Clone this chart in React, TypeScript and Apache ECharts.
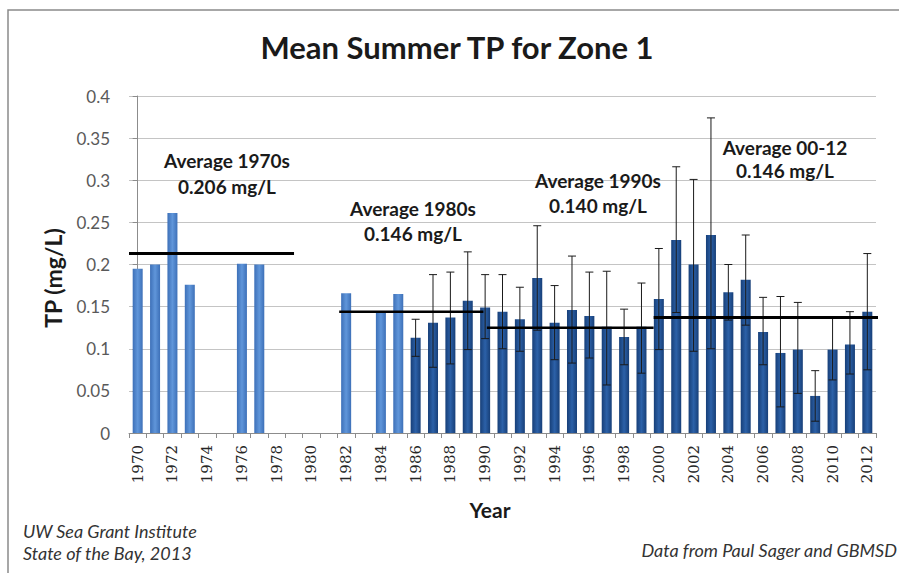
import React, { useEffect, useRef } from 'react';
import * as echarts from 'echarts';

// ---- Data ----
const years = [
  '1970', '1971', '1972', '1973', '1974', '1975', '1976', '1977', '1978', '1979',
  '1980', '1981', '1982', '1983', '1984', '1985', '1986', '1987', '1988', '1989',
  '1990', '1991', '1992', '1993', '1994', '1995', '1996', '1997', '1998', '1999',
  '2000', '2001', '2002', '2003', '2004', '2005', '2006', '2007', '2008', '2009',
  '2010', '2011', '2012',
];

const tpValues: (number | null)[] = [
  0.195, 0.2, 0.261, 0.176, null, null, 0.201, 0.2, null, null,
  null, null, 0.166, null, 0.144, 0.165, 0.113, 0.131, 0.137, 0.157,
  0.149, 0.144, 0.135, 0.184, 0.131, 0.146, 0.139, 0.126, 0.114, 0.126,
  0.159, 0.229, 0.2, 0.235, 0.167, 0.182, 0.12, 0.095, 0.099, 0.044,
  0.099, 0.105, 0.144,
];

const errLow: (number | null)[] = [
  null, null, null, null, null, null, null, null, null, null,
  null, null, null, null, null, null, 0.091, 0.078, 0.082, 0.099,
  0.112, 0.1, 0.097, 0.122, 0.087, 0.083, 0.089, 0.057, 0.081, 0.071,
  0.099, 0.143, 0.097, 0.1, 0.134, 0.128, 0.081, 0.031, 0.047, 0.014,
  0.063, 0.07, 0.075,
];

const errHigh: (number | null)[] = [
  null, null, null, null, null, null, null, null, null, null,
  null, null, null, null, null, null, 0.135, 0.188, 0.191, 0.215,
  0.188, 0.188, 0.173, 0.246, 0.175, 0.21, 0.191, 0.192, 0.147, 0.178,
  0.219, 0.316, 0.301, 0.374, 0.2, 0.235, 0.161, 0.162, 0.155, 0.074,
  0.136, 0.144, 0.213,
];

// first index drawn in the dark (monitored) colour
const darkFrom = 16;

// decade average lines (category-index positions)
const avgStart = [-0.5, 11.6, 20.1, 29.7];
const avgEnd = [9.0, 19.9, 29.7, 42.8];
const avgValues = [0.213, 0.144, 0.125, 0.137];
const avgTitles = ['Average 1970s', 'Average 1980s', 'Average 1990s', 'Average 00-12'];
const avgTexts = ['0.206 mg/L', '0.146 mg/L', '0.140 mg/L', '0.146 mg/L'];

const yTicks = [0, 0.05, 0.1, 0.15, 0.2, 0.25, 0.3, 0.35, 0.4];

export default function App() {
  const ref = useRef<HTMLDivElement>(null);

  useEffect(() => {
    if (!ref.current) return;
    const chart = echarts.init(ref.current, null, { renderer: 'svg' });

    const lightGrad = new echarts.graphic.LinearGradient(0, 0, 1, 0, [
      { offset: 0, color: '#3d70b8' },
      { offset: 0.5, color: '#6096da' },
      { offset: 1, color: '#3d70b8' },
    ]);
    const darkGrad = new echarts.graphic.LinearGradient(0, 0, 1, 0, [
      { offset: 0, color: '#173f78' },
      { offset: 0.5, color: '#2c61a8' },
      { offset: 1, color: '#173f78' },
    ]);

    const barData = tpValues.map((v, i) =>
      v == null ? null : { value: v, itemStyle: { color: i < darkFrom ? lightGrad : darkGrad } }
    );

    const errData: number[][] = [];
    errLow.forEach((lo, i) => {
      const hi = errHigh[i];
      if (lo != null && hi != null) errData.push([i, lo, hi]);
    });

    const annPos = [
      [227, 160, 186],
      [413, 208, 233],
      [598, 180, 205],
      [785, 147, 170],
    ];
    const annFont = 'bold 19px Lato';
    const footFont = 'italic 18px Lato';

    const graphics: any[] = [
      {
        type: 'rect',
        shape: { x: 8, y: 10, width: 920, height: 600 },
        style: { fill: 'none', stroke: '#8a8a8a', lineWidth: 1.5 },
        silent: true,
        z: 0,
      },
      {
        type: 'text',
        x: 457,
        y: 47,
        style: {
          text: 'Mean Summer TP for Zone 1',
          font: 'bold 31px Lato',
          fill: '#1a1a1a',
          textAlign: 'center',
          textVerticalAlign: 'middle',
        },
      },
      {
        type: 'text',
        x: 53,
        y: 278,
        rotation: Math.PI / 2,
        style: {
          text: 'TP (mg/L)',
          font: 'bold 23px Lato',
          fill: '#1a1a1a',
          textAlign: 'center',
          textVerticalAlign: 'middle',
        },
      },
      {
        type: 'text',
        x: 490,
        y: 509,
        style: {
          text: 'Year',
          font: 'bold 21px Lato',
          fill: '#1a1a1a',
          textAlign: 'center',
          textVerticalAlign: 'middle',
        },
      },
      {
        type: 'text',
        x: 23,
        y: 531,
        style: {
          text: 'UW Sea Grant Institute',
          font: footFont,
          fill: '#333',
          textAlign: 'left',
          textVerticalAlign: 'middle',
        },
      },
      {
        type: 'text',
        x: 23,
        y: 553,
        style: {
          text: 'State of the Bay, 2013',
          font: footFont,
          fill: '#333',
          textAlign: 'left',
          textVerticalAlign: 'middle',
        },
      },
      {
        type: 'text',
        x: 897,
        y: 550,
        style: {
          text: 'Data from Paul Sager and GBMSD',
          font: footFont,
          fill: '#333',
          textAlign: 'right',
          textVerticalAlign: 'middle',
        },
      },
    ];
    annPos.forEach((p, i) => {
      graphics.push({
        type: 'text',
        x: p[0],
        y: p[1],
        z: 10,
        style: { text: avgTitles[i], font: annFont, fill: '#1a1a1a', textAlign: 'center', textVerticalAlign: 'middle' },
      });
      graphics.push({
        type: 'text',
        x: p[0],
        y: p[2],
        z: 10,
        style: { text: avgTexts[i], font: annFont, fill: '#1a1a1a', textAlign: 'center', textVerticalAlign: 'middle' },
      });
    });

    const avgSeries = avgValues.map((v, i) => ({
      type: 'line',
      xAxisIndex: 1,
      yAxisIndex: 0,
      data: [
        [avgStart[i], v],
        [avgEnd[i], v],
      ],
      symbol: 'none',
      clip: false,
      lineStyle: { color: '#000', width: i === 0 || i === 3 ? 3 : 2.5 },
      z: 6,
      silent: true,
    }));

    chart.setOption({
      animation: false,
      backgroundColor: '#ffffff',
      grid: { left: 129, right: 23, top: 96, bottom: 140, containLabel: false },
      xAxis: [
        {
          type: 'category',
          data: years,
          boundaryGap: true,
          axisLine: { show: true, lineStyle: { color: '#8c8c8c', width: 1 } },
          axisTick: { show: true, interval: 0, length: 5, lineStyle: { color: '#8c8c8c' } },
          axisLabel: {
            interval: 1,
            rotate: 90,
            margin: 12,
            fontFamily: 'DejaVu Serif',
            fontSize: 15,
            color: '#262626',
          },
          splitLine: { show: false },
        },
        {
          type: 'value',
          min: -0.5,
          max: 42.5,
          show: false,
          position: 'top',
        },
      ],
      yAxis: {
        type: 'value',
        min: yTicks[0],
        max: yTicks[yTicks.length - 1],
        interval: 0.05,
        axisLine: { show: true, lineStyle: { color: '#8c8c8c', width: 1 } },
        axisTick: { show: true, length: 5, lineStyle: { color: '#8c8c8c' } },
        axisLabel: {
          margin: 19,
          fontFamily: 'Lato',
          fontSize: 17,
          color: '#595959',
          formatter: (v: number) => String(parseFloat(v.toFixed(2))),
        },
        splitLine: { show: true, lineStyle: { color: '#c4c4c4', width: 1 } },
      },
      graphic: graphics,
      series: [
        {
          type: 'bar',
          data: barData,
          barWidth: 10,
          z: 2,
        },
        {
          type: 'custom',
          xAxisIndex: 0,
          yAxisIndex: 0,
          data: errData,
          z: 4,
          renderItem: (params: any, api: any) => {
            const x = api.value(0);
            const pLo = api.coord([x, api.value(1)]);
            const pHi = api.coord([x, api.value(2)]);
            const w = 4;
            const style = { stroke: '#1a1a1a', lineWidth: 1 };
            return {
              type: 'group',
              children: [
                { type: 'line', shape: { x1: pHi[0], y1: pHi[1], x2: pLo[0], y2: pLo[1] }, style },
                { type: 'line', shape: { x1: pHi[0] - w, y1: pHi[1], x2: pHi[0] + w, y2: pHi[1] }, style },
                { type: 'line', shape: { x1: pLo[0] - w, y1: pLo[1], x2: pLo[0] + w, y2: pLo[1] }, style },
              ],
            };
          },
        },
        ...avgSeries,
      ],
    });

    return () => {
      chart.dispose();
    };
  }, []);

  return (
    <div
      ref={ref}
      style={{ position: 'fixed', left: 0, top: 0, width: 899, height: 573, background: '#fff' }}
    />
  );
}
